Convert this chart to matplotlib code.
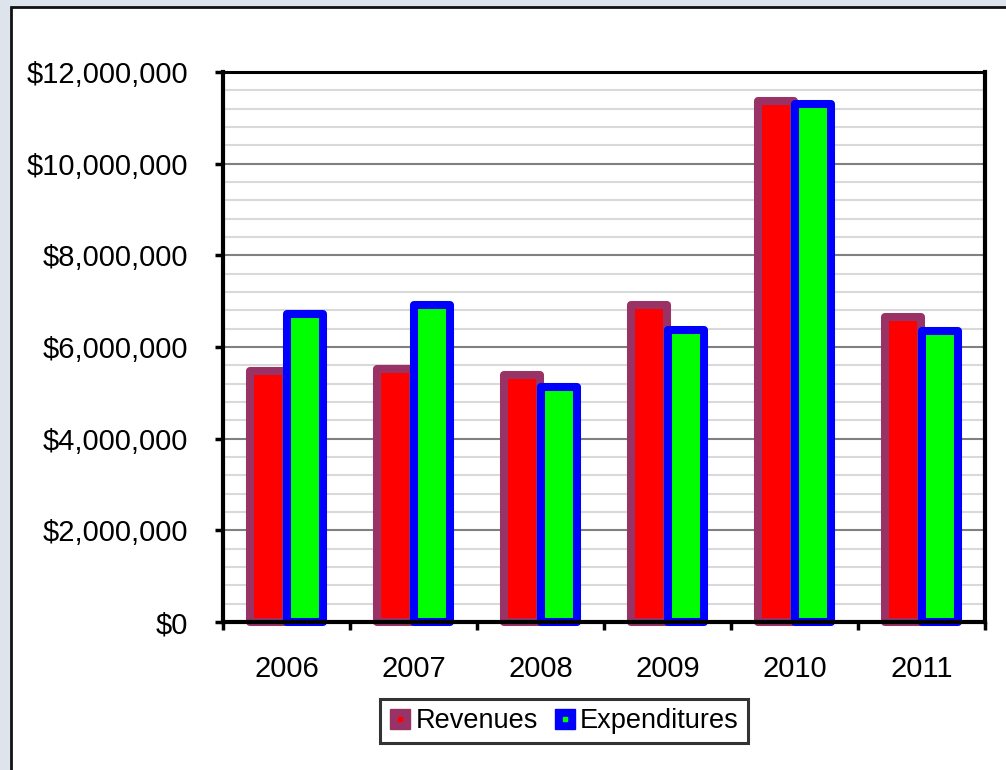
import matplotlib.pyplot as plt
from matplotlib.patches import Rectangle
from matplotlib.lines import Line2D
from matplotlib.ticker import FuncFormatter, MultipleLocator
import numpy as np

plt.rcParams['font.family'] = ['Liberation Sans', 'DejaVu Sans']

# Revenues vs expenditures by year
years = ['2006', '2007', '2008', '2009', '2010', '2011']
revenues = [5480000, 5520000, 5390000, 6920000, 11370000, 6650000]
expenditures = [6720000, 6920000, 5120000, 6370000, 11300000, 6360000]

REV_EDGE, REV_FILL = '#993366', '#ff0000'
EXP_EDGE, EXP_FILL = '#0000ff', '#00ff00'

fig = plt.figure(figsize=(10.06, 7.70), dpi=100)
fig.patch.set_facecolor('#dde4ec')

# White chart panel with dark border, behind the axes
panel = Rectangle((11 / 1006, -0.01), 1.0, (770 - 7) / 770 + 0.01,
                  transform=fig.transFigure, facecolor='white',
                  edgecolor='#111111', linewidth=2, zorder=-10)
fig.patches.append(panel)

ax = fig.add_axes([223 / 1006, 148 / 770, 762 / 1006, 550 / 770])
ax.set_facecolor('white')

x = np.arange(len(years))
w = 0.283
off = 0.144
lw = 5.8

rev_bars = ax.bar(x - off, revenues, w, color=REV_FILL, edgecolor=REV_EDGE,
                  linewidth=lw, zorder=2, clip_on=False)
exp_bars = ax.bar(x + off, expenditures, w, color=EXP_FILL, edgecolor=EXP_EDGE,
                  linewidth=lw, zorder=2.1, clip_on=False)
for b in list(rev_bars) + list(exp_bars):
    b.set_joinstyle('round')

ax.set_xlim(-0.5, len(years) - 0.5)
ax.set_ylim(0, 12000000)

# gridlines: major every 2M, minor every 400k
ax.yaxis.set_major_locator(MultipleLocator(2000000))
ax.yaxis.set_minor_locator(MultipleLocator(400000))
ax.grid(axis='y', which='major', color='#808080', linewidth=1.5)
ax.grid(axis='y', which='minor', color='#d9d9d9', linewidth=1.5)
ax.set_axisbelow(True)

ax.yaxis.set_major_formatter(FuncFormatter(lambda v, p: f'${v:,.0f}'))
ax.tick_params(axis='y', which='major', direction='out', length=6, width=2.5,
               labelsize=21, pad=19, colors='black')
ax.tick_params(axis='y', which='minor', length=0)

# x ticks sit at category boundaries, labels centred under each group
ax.set_xticks(np.arange(len(years) + 1) - 0.5)
ax.set_xticklabels([])
ax.set_xticks(x, minor=True)
ax.set_xticklabels(years, minor=True)
ax.tick_params(axis='x', which='major', direction='out', length=6, width=2.5)
ax.tick_params(axis='x', which='minor', length=0, labelsize=21, pad=24)

for side in ['left', 'bottom', 'right']:
    ax.spines[side].set_linewidth(3)
    ax.spines[side].set_color('black')
ax.spines['top'].set_linewidth(2.2)
ax.spines['top'].set_color('black')

# legend swatches: border-coloured square with a fill-coloured centre
rev_handle = (Line2D([], [], linestyle='none', marker='s', markersize=14,
                     markerfacecolor=REV_EDGE, markeredgecolor=REV_EDGE),
              Line2D([], [], linestyle='none', marker='s', markersize=3,
                     markerfacecolor=REV_FILL, markeredgecolor=REV_FILL))
exp_handle = (Line2D([], [], linestyle='none', marker='s', markersize=14,
                     markerfacecolor=EXP_EDGE, markeredgecolor=EXP_EDGE),
              Line2D([], [], linestyle='none', marker='s', markersize=3,
                     markerfacecolor=EXP_FILL, markeredgecolor=EXP_FILL))
leg = fig.legend([rev_handle, exp_handle], ['Revenues', 'Expenditures'],
                 loc='center', bbox_to_anchor=(564 / 1006, 49 / 770),
                 ncol=2, fontsize=19.5, frameon=True, fancybox=False,
                 handlelength=0.8, handletextpad=0.15, columnspacing=0.6,
                 borderpad=0.35, borderaxespad=0)
leg.get_frame().set_edgecolor('black')
leg.get_frame().set_linewidth(2.2)

fig.savefig('out.png', dpi=100)
